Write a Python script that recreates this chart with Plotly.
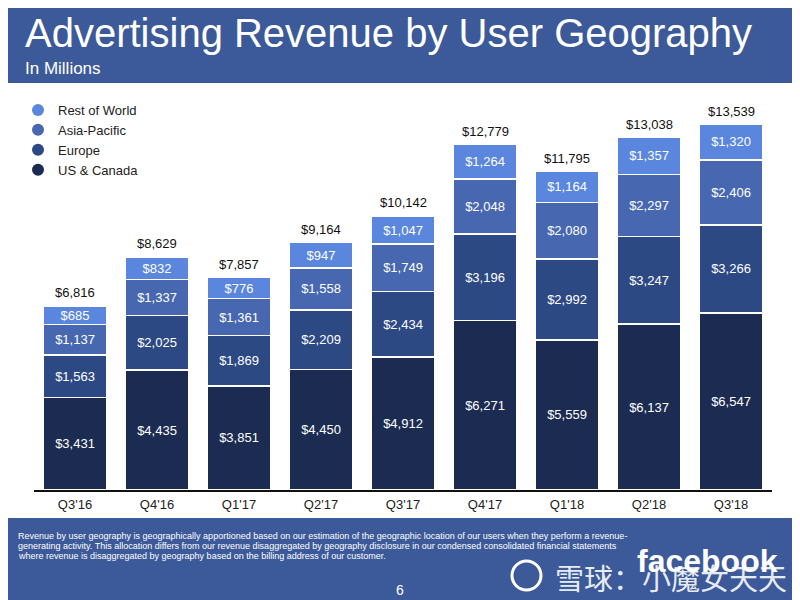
import plotly.graph_objects as go

quarters = ["Q3'16", "Q4'16", "Q1'17", "Q2'17", "Q3'17", "Q4'17", "Q1'18", "Q2'18", "Q3'18"]
us_canada = [3431, 4435, 3851, 4450, 4912, 6271, 5559, 6137, 6547]
europe = [1563, 2025, 1869, 2209, 2434, 3196, 2992, 3247, 3266]
asia_pacific = [1137, 1337, 1361, 1558, 1749, 2048, 2080, 2297, 2406]
rest_of_world = [685, 832, 776, 947, 1047, 1264, 1164, 1357, 1320]
totals = [6816, 8629, 7857, 9164, 10142, 12779, 11795, 13038, 13539]

series = [
    ("US & Canada", us_canada, "#1b2b52"),
    ("Europe", europe, "#2d4984"),
    ("Asia-Pacific", asia_pacific, "#4767b0"),
    ("Rest of World", rest_of_world, "#5a86dd"),
]

FB_BLUE = "#3c5a99"
FONT = "Liberation Sans, Arial, Helvetica, sans-serif"

# page body offset (default 8px margin) -> work in window pixels, convert
OFF = 8
FW, FH = 800 - OFF, 600 - OFF
# plot area in window pixels
L, R, T, B = 34, 772, 100, 490
W, H = R - L, B - T


def px(x):
    return (x - L) / W


def py(y):
    return (B - y) / H


def cx(x):
    return (x - OFF) / FW


def cy(y):
    return 1 - (y - OFF) / FH


fig = go.Figure()

for name, vals, col in series:
    fig.add_trace(go.Bar(
        x=quarters, y=vals, name=name,
        marker=dict(color=col, line=dict(color="white", width=1.5)),
        text=[f"${v:,}" for v in vals],
        textposition="inside", insidetextanchor="middle",
        textfont=dict(color="white", size=13, family=FONT),
        showlegend=False, hoverinfo="skip",
    ))
    fig.add_trace(go.Scatter(
        x=[None], y=[None], mode="markers", name=name,
        marker=dict(symbol="circle", size=12, color=col),
        showlegend=True,
    ))

shapes = [
    dict(type="rect", xref="paper", yref="paper", x0=px(-20), x1=px(820),
         y0=py(83), y1=py(-20), fillcolor=FB_BLUE, line=dict(width=0), layer="below"),
    dict(type="rect", xref="paper", yref="paper", x0=px(-20), x1=px(820),
         y0=py(620), y1=py(518), fillcolor=FB_BLUE, line=dict(width=0), layer="below"),
    dict(type="circle", xref="paper", yref="paper", x0=px(512), x1=px(541),
         y0=py(590), y1=py(561), line=dict(color="white", width=3)),
]

foot_lines = [
    "Revenue by user geography is geographically apportioned based on our estimation of the geographic location of our users when they perform a revenue-",
    "generating activity. This allocation differs from our revenue disaggregated by geography disclosure in our condensed consolidated financial statements",
    "where revenue is disaggregated by geography based on the billing address of our customer.",
]

annotations = [
    dict(text="Advertising Revenue by User Geography", x=px(23), y=py(33), xref="paper", yref="paper",
         xanchor="left", yanchor="middle", showarrow=False,
         font=dict(color="white", size=40, family=FONT)),
    dict(text="In Millions", x=px(23), y=py(68), xref="paper", yref="paper",
         xanchor="left", yanchor="middle", showarrow=False,
         font=dict(color="white", size=17, family=FONT)),
    dict(text="6", x=px(400), y=py(590), xref="paper", yref="paper",
         xanchor="center", yanchor="middle", showarrow=False,
         font=dict(color="white", size=14, family=FONT)),
    dict(text="<b>facebook</b>", x=px(780), y=py(561), xref="paper", yref="paper",
         xanchor="right", yanchor="middle", showarrow=False,
         font=dict(color="white", size=32, family=FONT)),
    dict(text="雪球：小魔女天天", x=px(789), y=py(577), xref="paper", yref="paper",
         xanchor="right", yanchor="middle", showarrow=False,
         font=dict(color="rgba(255,255,255,0.9)", size=29, family="Noto Sans CJK SC")),
]

for i, line in enumerate(foot_lines):
    annotations.append(dict(
        text=line, x=px(16), y=py(536 + 10 * i), xref="paper", yref="paper",
        xanchor="left", yanchor="middle", showarrow=False,
        font=dict(color="white", size=9.0, family=FONT)))

for q, t in zip(quarters, totals):
    annotations.append(dict(
        text=f"${t:,}", x=q, y=t, xref="x", yref="y",
        xanchor="center", yanchor="middle", yshift=13, showarrow=False,
        font=dict(color="#111111", size=13, family=FONT)))

fig.update_layout(
    width=FW, height=FH,
    barmode="stack", bargap=0.22,
    paper_bgcolor="white", plot_bgcolor="white",
    margin=dict(l=L - OFF, r=800 - R, t=T - OFF, b=600 - B, pad=0, autoexpand=False),
    font=dict(family=FONT, color="#222222"),
    xaxis=dict(showline=True, linecolor="#111111", linewidth=1.5, showgrid=False,
               ticks="", ticklabelstandoff=2,
               tickfont=dict(size=13, color="#222222", family=FONT), fixedrange=True),
    yaxis=dict(range=[0, 14430], visible=False, showgrid=False, fixedrange=True),
    legend=dict(xref="container", yref="container", x=cx(18), y=cy(95),
                xanchor="left", yanchor="top",
                traceorder="reversed", bgcolor="rgba(0,0,0,0)",
                font=dict(size=13, color="#222222", family=FONT),
                itemsizing="constant", tracegroupgap=0),
    uniformtext=dict(minsize=13, mode="show"),
    shapes=shapes,
    annotations=annotations,
)

fig.write_html("out.html")
